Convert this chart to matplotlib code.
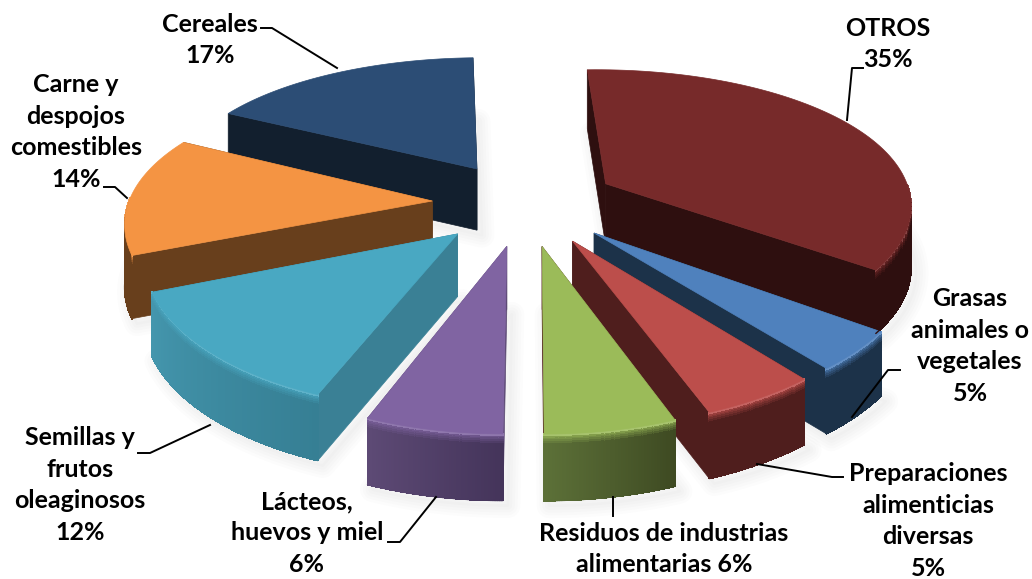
import numpy as np
import matplotlib
matplotlib.use('Agg')
import matplotlib.pyplot as plt
from matplotlib.collections import PolyCollection
from matplotlib.colors import to_rgb

names = ['OTROS', 'Grasas', 'Preparaciones', 'Residuos', 'Lacteos', 'Semillas', 'Carne', 'Cereales']
shares = [35.6, 4.2, 5.07, 5.72, 5.95, 12.9, 13.75, 16.81]
explode = [0.30, 0.30, 0.30, 0.30, 0.30, 0.30, 0.30, 0.30]
radius = [0.99, 1.0, 1.0, 1.0, 1.0, 0.97, 0.98, 1.0]
top_colors = ['#772A2A', '#4F81BD', '#BC4E4B', '#9BBB59', '#8064A2', '#49A8C2', '#F49443', '#2C4D75']
side_colors = ['#2E0F0F', '#1C3249', '#4F1E1D', '#4F1E1D', '#5D4A75', '#3A8095', '#683F1C', '#121F2E']
rim_start = ['#2E0F0F', '#1C3249', '#4F1E1D', '#3E4A22', '#44345A', '#367F94', '#683F1C', '#121F2E']
rim_end = ['#2E0F0F', '#1C3249', '#4F1E1D', '#5C7038', '#5D4A75', '#4496AD', '#683F1C', '#121F2E']
draw_order = [7, 0, 6, 1, 2, 5, 3, 4]

labels = ['OTROS\n35%', 'Grasas\nanimales o\nvegetales\n5%', 'Preparaciones\nalimenticias\ndiversas\n5%',
          'Residuos de industrias\nalimentarias 6%', 'Lácteos,\nhuevos y miel\n6%',
          'Semillas y\nfrutos\noleaginosos\n12%', 'Carne y\ndespojos\ncomestibles\n14%', 'Cereales\n17%']
label_x = [888, 970, 928, 664, 307, 80, 76, 210]
label_y = [44, 346, 521, 549, 533, 485, 132, 40]
leaders = [[(847, 120), (852, 68), (863, 68)], [(852, 417), (888, 370), (900, 370)],
           [(757, 464), (832, 477), (843, 477)], [(613, 497), (613, 516)],
           [(436, 497), (400, 542), (388, 542)], [(210, 425), (150, 453), (138, 453)],
           [(127, 198), (115, 187), (104, 187)], [(337, 68), (272, 28), (261, 28)]]

cx, cy = 525.0, 203.0
rx, ry = 310.0, 140.0
persp = 0.166
wall = 62.0
start = -2.0


def project(u, v):
    s = 1.0 / (1.0 + persp * v)
    return cx + rx * u * s ** 0.8, cy - ry * v * s


def drop(v):
    return wall * (1.0 / (1.0 + persp * v)) ** 0.3


def mix(c1, c2, f):
    a, b = np.array(to_rgb(c1)), np.array(to_rgb(c2))
    return tuple(a + (b - a) * f)


def draw_slice(ax, t0, t1, e, rad, top, side, r0, r1):
    mid = np.radians((t0 + t1) / 2)
    au, av = e * np.sin(mid), e * np.cos(mid)
    tt = np.radians(np.linspace(t0, t1, 80))
    ru, rv = au + rad * np.sin(tt), av + rad * np.cos(tt)
    ax0, ay0 = project(au, av)
    xs, ys = project(ru, rv)
    d_a = drop(av)
    dr = drop(rv)

    # shadow
    sx = np.r_[ax0, xs]
    sy = np.r_[ay0 + d_a, ys + dr]
    for w in range(2, 22, 4):
        ax.fill(sx + 5, sy + 5, facecolor='none', edgecolor='#000000', alpha=0.012, lw=w, joinstyle='round', zorder=1)

    # flat walls
    for i in (0, -1):
        ax.fill([ax0, xs[i], xs[i], ax0], [ay0, ys[i], ys[i] + dr[i], ay0 + d_a], color=side, lw=0.5)

    # outer wall with a soft edge at the top
    quads, cols = [], []
    layers = [0, 1.5, 3, 4.5, 6, 8, 10, 200]
    vis = []
    for j in range(len(tt) - 1):
        if np.cos(tt[j]) > 0.02:
            continue
        vis.append(j)
        base = mix(r0, r1, j / (len(tt) - 2))
        for m in range(len(layers) - 1):
            h0, h1 = layers[m], layers[m + 1]
            y00 = ys[j] + min(h0, dr[j])
            y01 = ys[j + 1] + min(h0, dr[j + 1])
            y10 = ys[j] + min(h1, dr[j])
            y11 = ys[j + 1] + min(h1, dr[j + 1])
            quads.append([(xs[j], y00), (xs[j + 1], y01), (xs[j + 1], y11), (xs[j], y10)])
            f = min(1.0, m / 6.0)
            c = mix(top, base, f) if m > 1 else mix(top, 'white', 0.12)
            cols.append(c)
    if quads:
        ax.add_collection(PolyCollection(quads, facecolors=cols, edgecolors=cols, linewidths=0.6, antialiaseds=False))
        for j in vis:
            ax.plot(xs[j:j + 2], (ys + dr)[j:j + 2], color=mix(r0, r1, j / (len(tt) - 2)), lw=1.0, solid_capstyle='round')

    ax.fill(np.r_[ax0, xs], np.r_[ay0, ys], color=top, lw=0.5)


plt.rcParams['font.family'] = ['Lato', 'DejaVu Sans']
fig = plt.figure(figsize=(10.32, 5.79), dpi=100)
ax = fig.add_axes([0, 0, 1, 1])
ax.set_xlim(0, 1032)
ax.set_ylim(579, 0)
ax.axis('off')

edges = start + np.r_[0, np.cumsum(shares)] * 3.6
for i in draw_order:
    draw_slice(ax, edges[i], edges[i + 1], explode[i], radius[i], top_colors[i], side_colors[i],
               rim_start[i], rim_end[i])

for pts in leaders:
    ax.plot([p[0] for p in pts], [p[1] for p in pts], color='black', lw=1.4, zorder=5)

for i in range(len(labels)):
    ax.text(label_x[i], label_y[i], labels[i], ha='center', va='center', fontsize=18, fontweight='bold',
            linespacing=1.45, color='black', zorder=6)

fig.savefig('out.png', dpi=100)
